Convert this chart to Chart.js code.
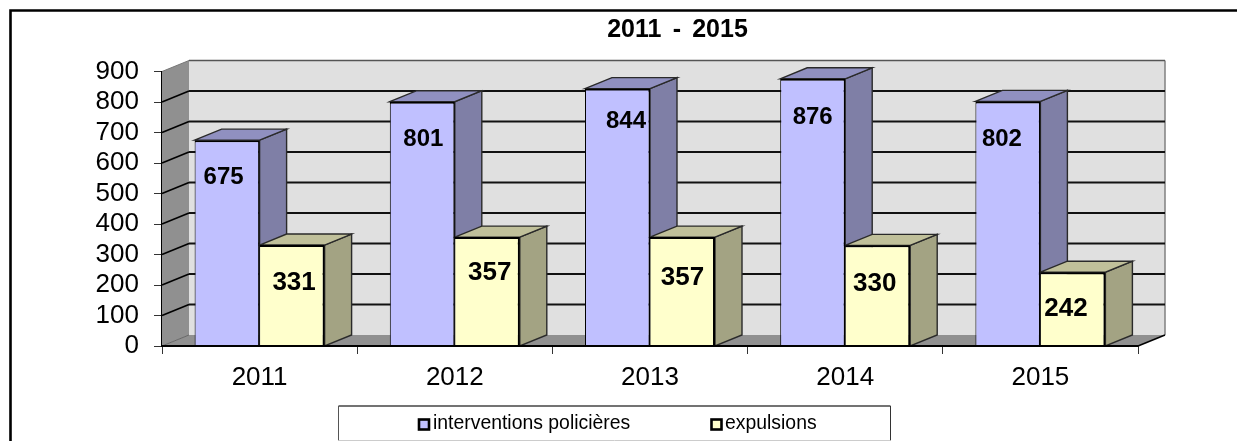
<!DOCTYPE html>
<html>
<head>
<meta charset="utf-8">
<style>html,body{margin:0;padding:0;background:#fff;overflow:hidden}canvas{display:block}</style>
<script src="https://cdn.jsdelivr.net/npm/chart.js@4"></script>
</head>
<body>
<canvas id="c" width="1237" height="441"></canvas>
<script>
const categories = ['2011', '2012', '2013', '2014', '2015'];
const interventions = [675, 801, 844, 876, 802];
const expulsions = [331, 357, 357, 330, 242];
const yTicks = [0, 100, 200, 300, 400, 500, 600, 700, 800, 900];
const titleText = '2011 - 2015';
const seriesNames = ['interventions policières', 'expulsions'];

const FONT = '"Liberation Sans", Arial, sans-serif';
const DX = 27, DY = 11;
const palette = [
  {front: '#c0c0ff', top: '#9090c0', side: '#7f7fa6', legendX: 419, textX: 433, labelSize: 24},
  {front: '#ffffcc', top: '#c0c09a', side: '#a3a383', legendX: 711.5, textX: 725, labelSize: 26}
];
const labelNudge = [
  [[-3.5, 37], [1, 38], [8.5, 33], [0, 39], [-6, 38]],
  [[2, 38], [2.5, 36], [0, 41], [-3, 38.5], [-7, 37]]
];

function poly(ctx, pts, fill, stroke, lw) {
  ctx.beginPath();
  pts.forEach((p, i) => i ? ctx.lineTo(p[0], p[1]) : ctx.moveTo(p[0], p[1]));
  ctx.closePath();
  if (fill) { ctx.fillStyle = fill; ctx.fill(); }
  if (stroke) { ctx.strokeStyle = stroke; ctx.lineWidth = lw; ctx.stroke(); }
}
function seg(ctx, x1, y1, x2, y2, col, lw) {
  ctx.beginPath(); ctx.moveTo(x1, y1); ctx.lineTo(x2, y2);
  ctx.strokeStyle = col; ctx.lineWidth = lw; ctx.stroke();
}

const depth3d = {
  id: 'depth3d',
  beforeDraw(chart) {
    const {ctx, width, height} = chart;
    ctx.save();
    ctx.fillStyle = '#fff'; ctx.fillRect(0, 0, width, height);
    ctx.beginPath(); ctx.moveTo(10.5, height); ctx.lineTo(10.5, 10.5); ctx.lineTo(width, 10.5);
    ctx.strokeStyle = '#000'; ctx.lineWidth = 2.6; ctx.stroke();
    ctx.restore();
  },
  beforeDatasetsDraw(chart) {
    const {ctx, scales: {x, y}} = chart;
    const L = x.left, R = x.right, B = y.getPixelForValue(0), T = y.getPixelForValue(900);
    ctx.save();
    poly(ctx, [[L + DX, T - DY], [R + DX, T - DY], [R + DX, B - DY], [L + DX, B - DY]], '#e0e0e0');
    poly(ctx, [[L, T], [L + DX, T - DY], [L + DX, B - DY], [L, B]], '#909090');
    poly(ctx, [[L, B], [L + DX, B - DY], [R + DX, B - DY], [R, B]], '#909090');
    seg(ctx, R + DX, T - DY, R + DX, B - DY, '#808080', 1.5);
    yTicks.forEach(v => {
      const p = y.getPixelForValue(v);
      if (v === 0) {
        seg(ctx, L, p, L + DX, p - DY, '#666', 1);
      } else if (v === 900) {
        seg(ctx, L, p, L + DX, p - DY, '#777', 1);
        seg(ctx, L + DX, p - DY, R + DX, p - DY, '#555', 1.5);
      } else {
        seg(ctx, L, p, L + DX, p - DY, '#000', 1.6);
        seg(ctx, L + DX, p - DY, R + DX, p - DY, '#111', 1.8);
      }
    });
    seg(ctx, R, B, R + DX, B - DY, '#000', 1.5);
    chart.data.datasets.forEach((ds, di) => {
      chart.getDatasetMeta(di).data.forEach(b => {
        const l = b.x - b.width / 2, r = b.x + b.width / 2, t = b.y;
        poly(ctx, [[r, t], [r + DX, t - DY], [r + DX, B - DY], [r, B]], palette[di].side, '#2a2a2a', 1.4);
        poly(ctx, [[l, t], [l + DX, t - DY], [r + DX, t - DY], [r, t]], palette[di].top, '#2a2a2a', 1.4);
      });
    });
    ctx.restore();
  },
  afterDatasetsDraw(chart) {
    const {ctx, scales: {x, y}} = chart;
    const B = y.getPixelForValue(0);
    ctx.save();
    seg(ctx, x.left, B, x.right, B, '#000', 2);
    ctx.fillStyle = '#000';
    ctx.textBaseline = 'middle';
    ctx.textAlign = 'center';
    chart.data.datasets.forEach((ds, di) => {
      ctx.font = 'bold ' + palette[di].labelSize + 'px ' + FONT;
      chart.getDatasetMeta(di).data.forEach((b, i) => {
        const n = labelNudge[di][i];
        ctx.fillText(String(ds.data[i]), b.x + n[0], b.y + n[1]);
      });
    });
    ctx.font = 'bold 25px ' + FONT;
    ctx.wordSpacing = '4.3px';
    ctx.fillText(titleText, 677.5, 30);
    ctx.wordSpacing = '0px';
    // legend
    ctx.fillStyle = '#fff'; ctx.fillRect(338.5, 406.5, 552, 34);
    seg(ctx, 338.5, 406, 890.5, 406, '#444', 1.5);
    seg(ctx, 338.5, 406, 338.5, 440.5, '#555', 1);
    seg(ctx, 890.5, 406, 890.5, 440.5, '#333', 1);
    seg(ctx, 338.5, 440.5, 890.5, 440.5, '#ccc', 1);
    ctx.textAlign = 'left';
    ctx.font = '19.4px ' + FONT;
    seriesNames.forEach((name, i) => {
      const c = palette[i];
      ctx.fillStyle = c.front; ctx.strokeStyle = '#000'; ctx.lineWidth = 2.6;
      ctx.fillRect(c.legendX, 419.5, 10, 10); ctx.strokeRect(c.legendX, 419.5, 10, 10);
      ctx.fillStyle = '#000';
      ctx.fillText(name, c.textX, 424);
    });
    ctx.restore();
  }
};

new Chart(document.getElementById('c'), {
  type: 'bar',
  data: {
    labels: categories,
    datasets: [
      {label: seriesNames[0], data: interventions, backgroundColor: palette[0].front, borderColor: '#000',
       borderWidth: {left: 1, right: 1.5, top: 2, bottom: 0}, borderSkipped: false},
      {label: seriesNames[1], data: expulsions, backgroundColor: palette[1].front, borderColor: '#000',
       borderWidth: {left: 0.5, right: 2, top: 2, bottom: 0}, borderSkipped: false}
    ]
  },
  options: {
    responsive: false,
    animation: false,
    devicePixelRatio: 1,
    layout: {padding: {left: 0, right: 99, top: 71.5, bottom: 0}},
    plugins: {legend: {display: false}, title: {display: false}, tooltip: {enabled: false}},
    datasets: {bar: {categoryPercentage: 0.666, barPercentage: 1}},
    scales: {
      x: {
        afterFit(s) { s.height = 95; },
        grid: {display: true, drawOnChartArea: false, drawTicks: true, tickLength: 8, color: '#333', lineWidth: 1},
        border: {display: false},
        ticks: {color: '#000', font: {family: FONT, size: 26}, padding: 8, maxRotation: 0, autoSkip: false}
      },
      y: {
        min: 0, max: 900,
        afterFit(s) { s.width = 162; },
        afterBuildTicks(s) { s.ticks = yTicks.map(v => ({value: v})); },
        grid: {display: true, drawOnChartArea: false, drawTicks: true, tickLength: 8, color: '#333', lineWidth: 1},
        border: {display: true, color: '#000', width: 1.5},
        ticks: {color: '#000', font: {family: FONT, size: 26}, padding: 15, autoSkip: false}
      }
    }
  },
  plugins: [depth3d]
});
</script>
</body>
</html>
